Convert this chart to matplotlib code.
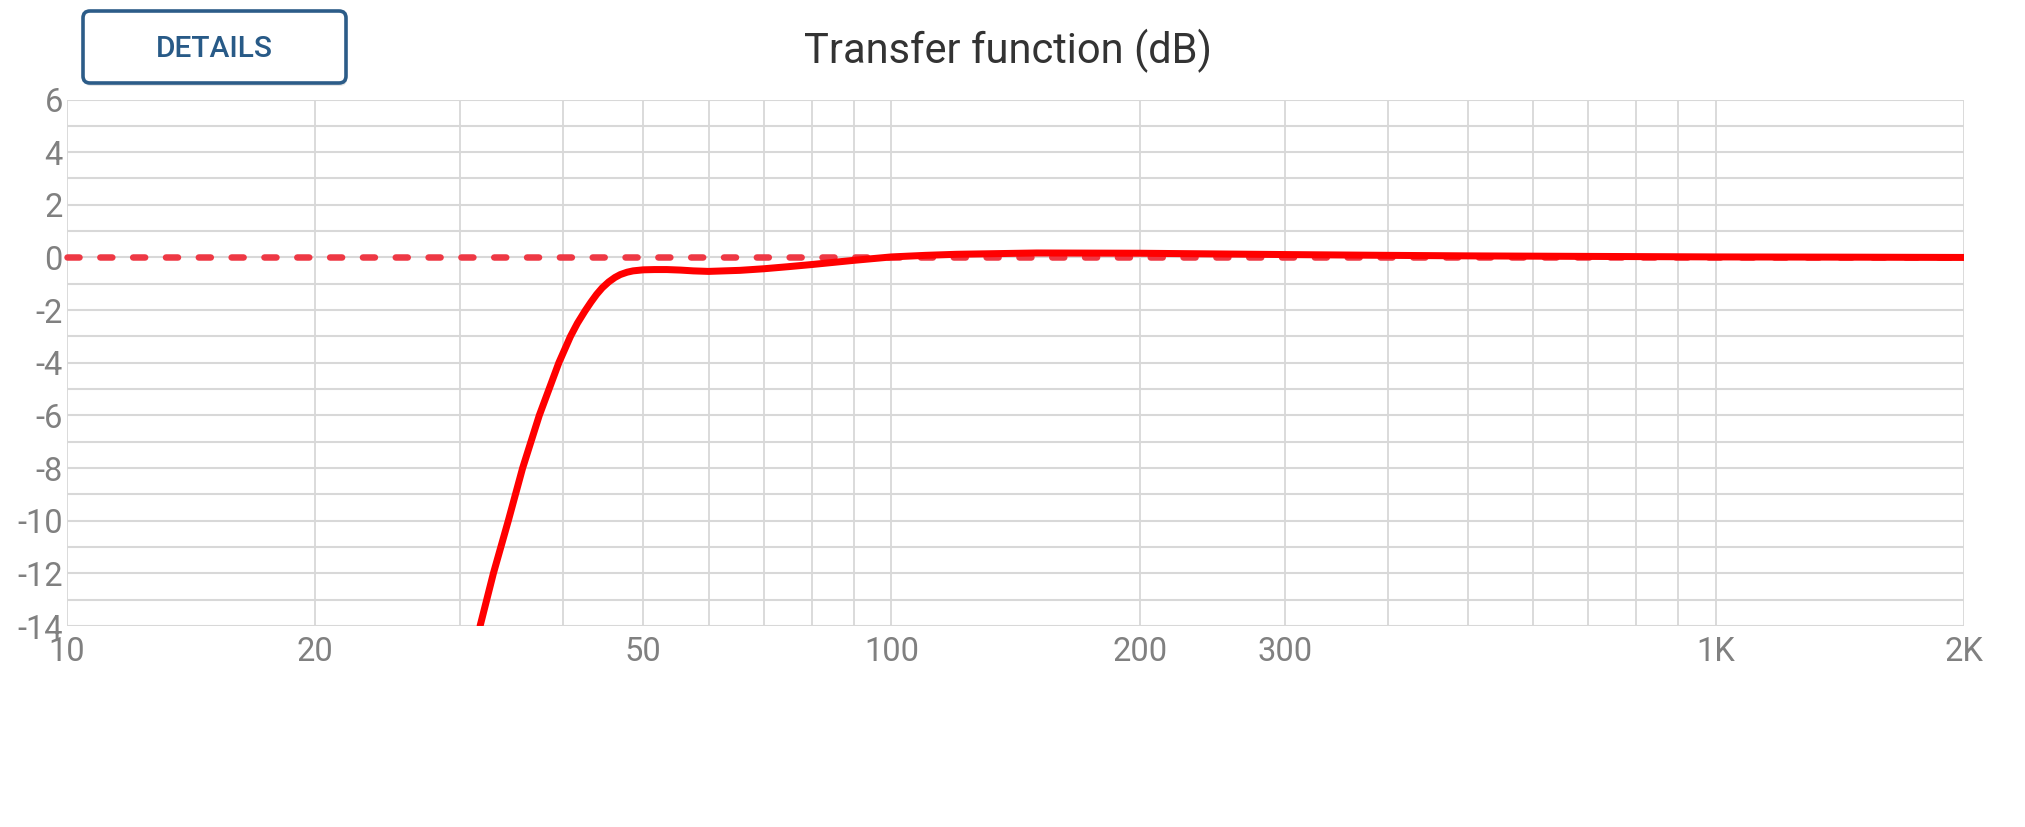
import matplotlib
matplotlib.use("Agg")
import matplotlib.pyplot as plt
from matplotlib.patches import FancyBboxPatch
from matplotlib.transforms import IdentityTransform

# ---- data ----
freq_hz = [31.7, 32.9, 34.3, 35.7, 37.4, 39.5, 40.8, 41.6, 42.5, 43.2, 43.9,
           44.6, 45.4, 46.2, 46.9, 47.8, 48.6, 50, 51.6, 53.4, 55.5, 57.5, 60,
           65.5, 70, 75, 80, 90, 100, 110, 120, 150, 200, 300, 400, 500, 700,
           1000, 1500, 2000]
gain_db = [-14, -12, -10, -8, -6, -4, -3, -2.5, -2.03, -1.7, -1.4,
           -1.15, -0.93, -0.76, -0.65, -0.56, -0.51, -0.47, -0.46, -0.46,
           -0.48, -0.51, -0.53, -0.49, -0.43, -0.35, -0.27, -0.11, 0.02, 0.08,
           0.12, 0.17, 0.16, 0.11, 0.08, 0.06, 0.04, 0.02, 0.01, 0.0]
ref_freq_hz = [10, 2000]
ref_gain_db = [0, 0]

x_grid = [10, 20, 30, 40, 50, 60, 70, 80, 90, 100, 200, 300, 400, 500, 600,
          700, 800, 900, 1000, 2000]
x_tick_values = [10, 20, 50, 100, 200, 300, 1000, 2000]
x_tick_labels = ['10', '20', '50', '100', '200', '300', '1K', '2K']
y_tick_values = [-14, -12, -10, -8, -6, -4, -2, 0, 2, 4, 6]
y_grid = list(range(-14, 7))

title_text = "Transfer function (dB)"
button_text = "DETAILS"

# ---- figure ----
W, H = 2025, 827
fig = plt.figure(figsize=(W / 100, H / 100), dpi=100)
fig.patch.set_facecolor('white')

L, R, T, B = 67, 1964, 99.5, 626
ax = fig.add_axes([L / W, 1 - B / H, (R - L) / W, (B - T) / H])
ax.set_xscale('log')
ax.set_xlim(10, 2000)
ax.set_ylim(-14, 6)

grid_color = '#d8d8d8'
for xv in x_grid:
    ax.axvline(xv, color=grid_color, lw=1.3, zorder=0)
for yv in y_grid:
    ax.axhline(yv, color=grid_color, lw=1.5, zorder=0)
for s in ax.spines.values():
    s.set_visible(False)

ax.minorticks_off()
ax.set_xticks(x_tick_values)
ax.set_xticklabels(x_tick_labels)
ax.set_yticks(y_tick_values)
ax.set_yticklabels([str(v) for v in y_tick_values])
tick_color = '#808080'
ax.tick_params(axis='both', length=0, colors=tick_color, labelsize=23.5)
ax.tick_params(axis='x', pad=7)
ax.tick_params(axis='y', pad=3)
for lab in ax.get_xticklabels() + ax.get_yticklabels():
    lab.set_fontfamily('Roboto')

px = 0.72  # points per pixel at 100 dpi
ax.plot(ref_freq_hz, ref_gain_db, color='#ee3844', lw=6.5 * px,
        dashes=(1.85, 3.2), dash_capstyle='round', zorder=2, clip_on=False)
ax.plot(freq_hz, gain_db, color='#ff0000', lw=7 * px,
        solid_capstyle='round', solid_joinstyle='round', zorder=3)

# title
fig.text(1007.5 / W, 1 - 63 / H, title_text, ha='center', va='baseline',
         fontsize=30, family='Roboto', color='#333333')

# DETAILS button (pixel coordinates)
bx0, bx1, by_top, by_bot = 83, 346, 11, 83
shadow = FancyBboxPatch((bx0 + 1, H - by_bot - 3), bx1 - bx0, by_bot - by_top,
                        boxstyle='round,pad=0,rounding_size=7',
                        transform=IdentityTransform(), facecolor='#d6d6d6',
                        edgecolor='none', alpha=0.6, zorder=1)
fig.patches.append(shadow)
btn = FancyBboxPatch((bx0, H - by_bot), bx1 - bx0, by_bot - by_top,
                     boxstyle='round,pad=0,rounding_size=7',
                     transform=IdentityTransform(), facecolor='white',
                     edgecolor='#2c5c88', lw=2.6, zorder=2)
fig.patches.append(btn)
fig.text(((bx0 + bx1) / 2) / W, 1 - 57 / H, button_text, ha='center',
         va='baseline', fontsize=21.5, family='Roboto', fontweight='medium',
         color='#285a87')

fig.savefig('out.png', dpi=100, facecolor='white')
